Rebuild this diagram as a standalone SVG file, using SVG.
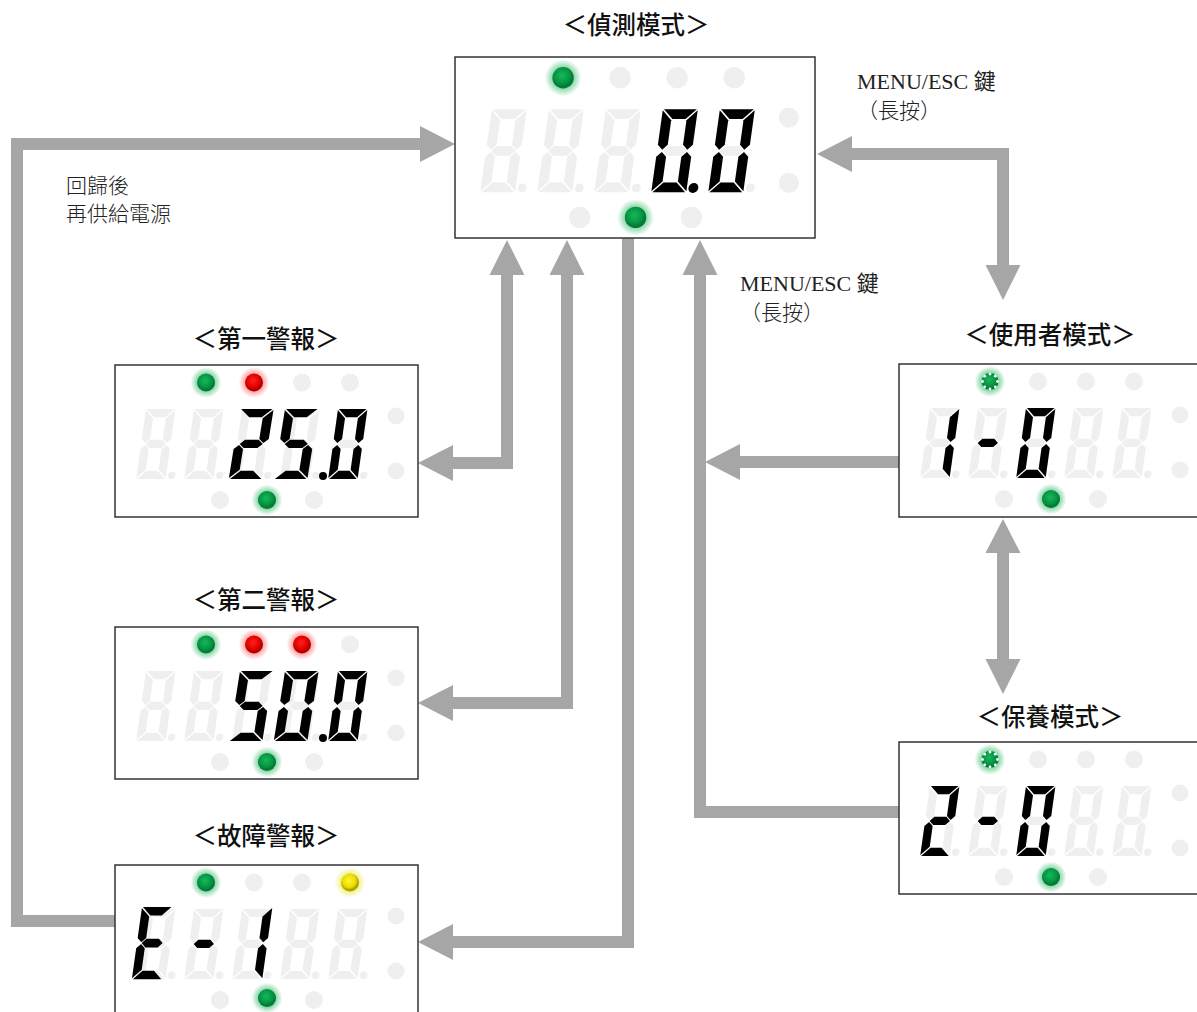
<svg xmlns="http://www.w3.org/2000/svg" xmlns:xlink="http://www.w3.org/1999/xlink" width="1197" height="1012" viewBox="0 0 1197 1012">
<style>
.title{font-family:"Noto Sans CJK TC","Noto Sans CJK SC",sans-serif;font-size:24.5px;font-weight:500;fill:#111;text-anchor:middle}
.lbl{font-family:"Liberation Serif","Noto Sans CJK TC",serif;font-size:22px;fill:#222}
.lblc{font-family:"Noto Sans CJK TC",sans-serif;font-size:21px;font-weight:300;fill:#222}
.box{fill:#fff;stroke:#333;stroke-width:1.5}
.off{fill:#efefef}
.on{fill:#000}
.conn{fill:none;stroke:#a6a6a6;stroke-width:12;stroke-linejoin:miter;stroke-linecap:butt}
.head{fill:#a6a6a6}
</style>
<defs>
<radialGradient id="haloG"><stop offset="0.5" stop-color="#2dbb66" stop-opacity="0.65"/><stop offset="1" stop-color="#2dbb66" stop-opacity="0"/></radialGradient>
<radialGradient id="haloR"><stop offset="0.5" stop-color="#ff4040" stop-opacity="0.55"/><stop offset="1" stop-color="#ff4040" stop-opacity="0"/></radialGradient>
<radialGradient id="haloY"><stop offset="0.5" stop-color="#e8e830" stop-opacity="0.65"/><stop offset="1" stop-color="#e8e830" stop-opacity="0"/></radialGradient>
<radialGradient id="coreG" cx="0.45" cy="0.4"><stop offset="0" stop-color="#16b85a"/><stop offset="0.75" stop-color="#069443"/><stop offset="1" stop-color="#047a36"/></radialGradient>
<radialGradient id="coreR" cx="0.45" cy="0.4"><stop offset="0" stop-color="#ff2020"/><stop offset="0.75" stop-color="#e00000"/><stop offset="1" stop-color="#b00000"/></radialGradient>
<radialGradient id="coreY" cx="0.45" cy="0.4"><stop offset="0" stop-color="#fff830"/><stop offset="0.75" stop-color="#e8dc00"/><stop offset="1" stop-color="#b0a000"/></radialGradient>
<g id="ledG"><circle r="15.5" fill="url(#haloG)"/><circle r="9" fill="url(#coreG)"/></g>
<g id="ledR"><circle r="15.5" fill="url(#haloR)"/><circle r="9" fill="url(#coreR)"/></g>
<g id="ledY"><circle r="15.5" fill="url(#haloY)"/><circle r="9" fill="url(#coreY)"/></g>
<g id="ledS"><circle r="15.5" fill="url(#haloG)"/><circle r="8.5" fill="url(#coreG)"/>
<g fill="#fff"><circle cx="7.5" cy="0" r="1.4"/><circle cx="-7.5" cy="0" r="1.4"/><circle cx="0" cy="7.5" r="1.4"/><circle cx="0" cy="-7.5" r="1.4"/><circle cx="5.3" cy="5.3" r="1.4"/><circle cx="-5.3" cy="5.3" r="1.4"/><circle cx="5.3" cy="-5.3" r="1.4"/><circle cx="-5.3" cy="-5.3" r="1.4"/></g></g>
<path id="sa" d="M1,0 H31 L22,9 H10 Z"/>
<path id="sb" d="M32,1 L23,10 V32.5 L27.5,37 L32,32.5 Z"/>
<path id="sc" d="M32,43.5 L27.5,39 L23,43.5 V66 L32,75 Z"/>
<path id="sd" d="M1,76 L10,67 H22 L31,76 Z"/>
<path id="se" d="M0,43.5 L4.5,39 L9,43.5 V66 L0,75 Z"/>
<path id="sf" d="M0,1 L9,10 V32.5 L4.5,37 L0,32.5 Z"/>
<path id="sg" d="M5,38 L9.5,33.5 H22.5 L27,38 L22.5,42.5 H9.5 Z"/>
<g id="g8"><use href="#sa"/><use href="#sb"/><use href="#sc"/><use href="#sd"/><use href="#se"/><use href="#sf"/><use href="#sg"/><circle cx="38" cy="72" r="4"/></g>
<g id="panel" class="off">
<circle cx="91" cy="17.5" r="9"/><circle cx="139" cy="17.5" r="9"/><circle cx="187" cy="17.5" r="9"/><circle cx="235" cy="17.5" r="9"/>
<circle cx="105" cy="135" r="9"/><circle cx="152" cy="135" r="9"/><circle cx="199" cy="135" r="9"/>
<circle cx="281" cy="51" r="8.5"/><circle cx="281" cy="106" r="8.5"/>
<use href="#g8" transform="translate(31,44) scale(0.92) skewX(-8)"/>
<use href="#g8" transform="translate(79,44) scale(0.92) skewX(-8)"/>
<use href="#g8" transform="translate(127,44) scale(0.92) skewX(-8)"/>
<use href="#g8" transform="translate(175,44) scale(0.92) skewX(-8)"/>
<use href="#g8" transform="translate(223,44) scale(0.92) skewX(-8)"/>
</g>
</defs>
<rect width="1197" height="1012" fill="#fff"/>

<g id="connectors">
<path class="conn" d="M115,921 H17 V144 H421"/>
<polygon class="head" points="455,144 420,126 420,162"/>
<path class="conn" d="M507,274 V463 H452"/>
<polygon class="head" points="507,240 489.5,275 524.5,275"/>
<polygon class="head" points="418,463 453,445 453,481"/>
<path class="conn" d="M567,274 V703 H452"/>
<polygon class="head" points="567,240 549.5,275 584.5,275"/>
<polygon class="head" points="418,703 453,685 453,721"/>
<path class="conn" d="M628,238 V942 H452"/>
<polygon class="head" points="418,942 453,924 453,960"/>
<path class="conn" d="M700,274 V812 H899"/>
<polygon class="head" points="700,240 682.5,275 717.5,275"/>
<path class="conn" d="M899,462 H739"/>
<polygon class="head" points="705,462 740,444 740,480"/>
<path class="conn" d="M851,154 H1003 V266"/>
<polygon class="head" points="817,154 852,136 852,172"/>
<polygon class="head" points="1003,300 985.5,265 1020.5,265"/>
<path class="conn" d="M1003,552 V660"/>
<polygon class="head" points="1003,519 985.5,553 1020.5,553"/>
<polygon class="head" points="1003,694 985.5,659 1020.5,659"/>
</g>

<g id="labels">
<text class="lbl" x="857" y="89">MENU/ESC 鍵</text>
<text class="lblc" x="857" y="118">（長按）</text>
<text class="lbl" x="740" y="291">MENU/ESC 鍵</text>
<text class="lblc" x="740" y="320">（長按）</text>
<text class="lblc" x="66" y="193">回歸後</text>
<text class="lblc" x="66" y="221">再供給電源</text>
</g>

<g id="node-detect">
<text class="title" x="636" y="34">＜偵測模式＞</text>
<rect class="box" x="455" y="57" width="360" height="181"/>
<g transform="translate(455,57) scale(1.188)">
<use href="#panel"/>
<use href="#ledG" x="91" y="17.5"/>
<use href="#ledG" x="152" y="135"/>
<g class="on" transform="translate(175,44) scale(0.92) skewX(-8)"><use href="#sa"/><use href="#sb"/><use href="#sc"/><use href="#sd"/><use href="#se"/><use href="#sf"/><circle cx="38" cy="72" r="4.5"/></g>
<g class="on" transform="translate(223,44) scale(0.92) skewX(-8)"><use href="#sa"/><use href="#sb"/><use href="#sc"/><use href="#sd"/><use href="#se"/><use href="#sf"/></g>
</g>
</g>

<g id="node-alarm1">
<text class="title" x="266" y="348">＜第一警報＞</text>
<rect class="box" x="115" y="365" width="303" height="152"/>
<g transform="translate(115,365)">
<use href="#panel"/>
<use href="#ledG" x="91" y="17.5"/>
<use href="#ledR" x="139" y="17.5"/>
<use href="#ledG" x="152" y="135"/>
<g class="on" transform="translate(125,44) scale(1.05,0.92) skewX(-8)"><use href="#sa"/><use href="#sb"/><use href="#sg"/><use href="#se"/><use href="#sd"/></g>
<g class="on" transform="translate(170,44) scale(1.05,0.92) skewX(-8)"><use href="#sa"/><use href="#sf"/><use href="#sg"/><use href="#sc"/><use href="#sd"/></g>
<circle class="on" cx="208" cy="111" r="4"/>
<g class="on" transform="translate(223,44) scale(0.92) skewX(-8)"><use href="#sa"/><use href="#sb"/><use href="#sc"/><use href="#sd"/><use href="#se"/><use href="#sf"/></g>
</g>
</g>

<g id="node-alarm2">
<text class="title" x="266" y="609">＜第二警報＞</text>
<rect class="box" x="115" y="627" width="303" height="152"/>
<g transform="translate(115,627)">
<use href="#panel"/>
<use href="#ledG" x="91" y="17.5"/>
<use href="#ledR" x="139" y="17.5"/>
<use href="#ledR" x="187" y="17.5"/>
<use href="#ledG" x="152" y="135"/>
<g class="on" transform="translate(125,44) scale(1.05,0.92) skewX(-8)"><use href="#sa"/><use href="#sf"/><use href="#sg"/><use href="#sc"/><use href="#sd"/></g>
<g class="on" transform="translate(170,44) scale(1.05,0.92) skewX(-8)"><use href="#sa"/><use href="#sb"/><use href="#sc"/><use href="#sd"/><use href="#se"/><use href="#sf"/></g>
<circle class="on" cx="208" cy="111" r="4"/>
<g class="on" transform="translate(223,44) scale(0.92) skewX(-8)"><use href="#sa"/><use href="#sb"/><use href="#sc"/><use href="#sd"/><use href="#se"/><use href="#sf"/></g>
</g>
</g>

<g id="node-fault">
<text class="title" x="266" y="845">＜故障警報＞</text>
<rect class="box" x="115" y="865" width="303" height="165"/>
<g transform="translate(115,865)">
<use href="#panel"/>
<use href="#ledG" x="91" y="17.5"/>
<use href="#ledY" x="235" y="17.5"/>
<use href="#ledG" x="152" y="133"/>
<g class="on" transform="translate(27,42) scale(0.95) skewX(-8)"><use href="#sa"/><use href="#sf"/><use href="#sg"/><use href="#se"/><use href="#sd"/></g>
<g class="on" transform="translate(79,44) scale(0.92) skewX(-8)"><use href="#sg"/></g>
<g class="on" transform="translate(127,42) scale(0.95) skewX(-8)"><use href="#sb"/><use href="#sc"/></g>
</g>
</g>

<g id="node-user">
<text class="title" x="1050" y="344">＜使用者模式＞</text>
<rect class="box" x="899" y="364" width="310" height="153"/>
<g transform="translate(899,364)">
<use href="#panel"/>
<use href="#ledS" x="91" y="17.5"/>
<use href="#ledG" x="152" y="135"/>
<g class="on" transform="translate(31,44) scale(0.92) skewX(-8)"><use href="#sb"/><use href="#sc"/></g>
<g class="on" transform="translate(79,44) scale(0.92) skewX(-8)"><use href="#sg"/></g>
<g class="on" transform="translate(127,44) scale(0.92) skewX(-8)"><use href="#sa"/><use href="#sb"/><use href="#sc"/><use href="#sd"/><use href="#se"/><use href="#sf"/></g>
</g>
</g>

<g id="node-maint">
<text class="title" x="1050" y="726">＜保養模式＞</text>
<rect class="box" x="899" y="742" width="310" height="152"/>
<g transform="translate(899,742)">
<use href="#panel"/>
<use href="#ledS" x="91" y="17.5"/>
<use href="#ledG" x="152" y="135"/>
<g class="on" transform="translate(31,44) scale(0.92) skewX(-8)"><use href="#sa"/><use href="#sb"/><use href="#sg"/><use href="#se"/><use href="#sd"/></g>
<g class="on" transform="translate(79,44) scale(0.92) skewX(-8)"><use href="#sg"/></g>
<g class="on" transform="translate(127,44) scale(0.92) skewX(-8)"><use href="#sa"/><use href="#sb"/><use href="#sc"/><use href="#sd"/><use href="#se"/><use href="#sf"/></g>
</g>
</g>
</svg>
